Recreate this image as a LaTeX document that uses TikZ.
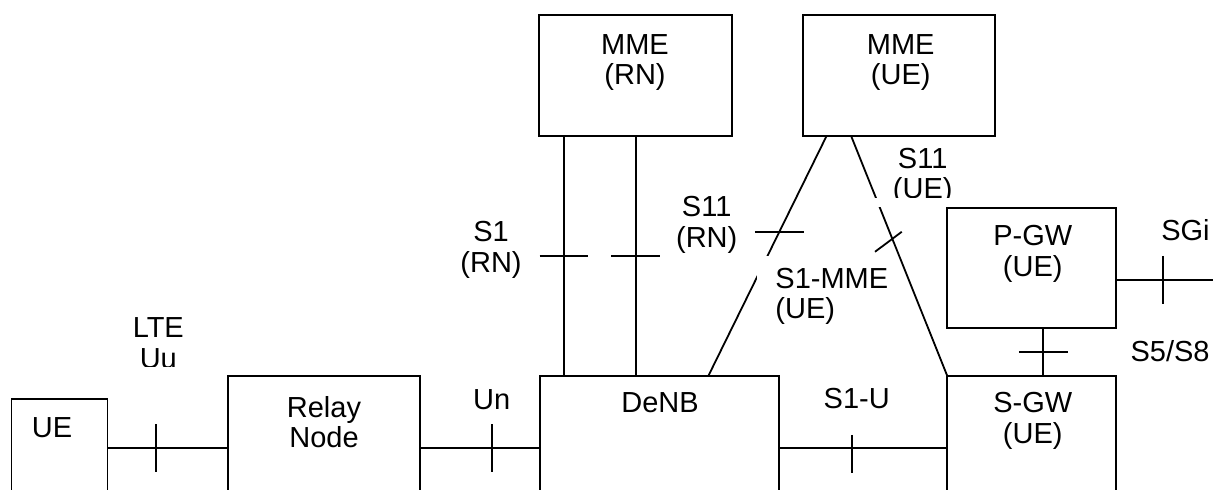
\documentclass[tikz,border=0pt]{standalone}
\usepackage{fontspec}
\setmainfont{Liberation Sans}

\begin{document}
\begin{tikzpicture}[x=0.5pt, y=-0.5pt,
  box/.style={draw, rectangle, line width=0.9pt, outer sep=0pt, inner sep=0pt, anchor=north west},
  link/.style={line width=0.9pt},
  lbl/.style={align=center, anchor=base, inner sep=0pt, font=\fontsize{14.5}{15.2}\selectfont}]

  \useasboundingbox (0,0) rectangle (1213,490);
  \clip (0,0) rectangle (1213,490);

  % boxes (the lower ones run off the bottom)
  \node[box, minimum width=48pt, minimum height=61pt] (ue) at (11.5,399) {};
  \node[box, minimum width=96pt, minimum height=72pt] (relay) at (228,376) {};
  \node[box, minimum width=119.5pt, minimum height=72pt] (denb) at (540,376) {};
  \node[box, minimum width=84.35pt, minimum height=72pt] (sgw) at (947.3,376) {};
  \node[box, minimum width=84.35pt, minimum height=60pt] (pgw) at (947.3,207.7) {};
  \node[box, minimum width=96.35pt, minimum height=60.2pt] (mmern) at (539.3,15.3) {};
  \node[box, minimum width=95.85pt, minimum height=60.2pt] (mmeue) at (803.3,15.3) {};

  \coordinate (uu) at (0,448.3);
  \coordinate (sgiend) at (1213,280);
  \coordinate (s1a) at ([xshift=12.35pt]mmern.south west);
  \coordinate (s1b) at ([xshift=48.2pt]mmern.south west);
  \coordinate (s58) at ([xshift=48pt]pgw.south west);

  % interfaces
  \draw[link] (ue.east |- uu) -- coordinate[pos=0.4] (tuu) (relay.west |- uu);
  \draw[link] (relay.east |- uu) -- coordinate[pos=0.6] (tun) (denb.west |- uu);
  \draw[link] (denb.east |- uu) -- coordinate[pos=0.432] (ts1u) (sgw.west |- uu);
  \draw[link] (s58) -- coordinate[pos=0.5] (ts58) (s58 |- sgw.north);
  \draw[link] (pgw.east |- sgiend) -- coordinate[pos=0.488] (tsgi) (sgiend);
  \draw[link] (s1a) -- coordinate[pos=0.5] (ts1a) (s1a |- denb.north);
  \draw[link] (s1b) -- coordinate[pos=0.5] (ts1b) (s1b |- denb.north);
  \draw[link] ([xshift=11.7pt]mmeue.south west) -- coordinate[pos=0.4] (ts11rn) ([xshift=84.15pt]denb.north west);
  \draw[link] ([xshift=23.85pt]mmeue.south west) -- coordinate[pos=0.429] (ts11ue) (sgw.north west);

  % ticks
  \foreach \t in {tuu,tun,tsgi}
  \draw[link] (\t) ++(0,-24) -- ++(0,48);
  \draw[link] (ts1u) ++(0,-13.3) -- ++(0,37.7);
  \foreach \t in {ts58,ts1a,ts1b,ts11rn}
  \draw[link] (\t) ++(-24.4,0) -- ++(48.8,0);
  \draw[link] (ts11ue) ++(-17.3,13) -- ++(26.7,-20);

  % labels (base = baseline of the last line)
  \node[lbl] (lue) at (52,437.7) {UE};
  \node[lbl] (llte) at (158.3,368.1) {LTE\\Uu};
  \node[lbl] (lrelay) at (324,447.7) {Relay\\Node};
  \node[lbl] (lun) at (491.7,410) {Un};
  \node[lbl] (ldenb) at (660,413) {DeNB};
  \node[lbl] (ls1u) at (856.7,409) {S1-U};
  \node[lbl] (lsgw) at (1032.7,443.4) {S-GW\\(UE)};
  \node[lbl] (lpgw) at (1032.7,276.1) {P-GW\\(UE)};
  \node[lbl, anchor=base east] (lsgi) at (1210,240.7) {SGi};
  \node[lbl, anchor=base east] (ls58) at (1210,361.7) {S5/S8};
  \node[lbl] (lmmern) at (635,84.7) {MME\\(RN)};
  \node[lbl] (lmmeue) at (900.7,84.7) {MME\\(UE)};
  \node[lbl] (ls1rn) at (491,272.1) {S1\\(RN)};
  \node[lbl] (ls11rn) at (706.7,247.1) {S11\\(RN)};
  \node[lbl] (ls11ue) at (922.7,198.7) {S11\\(UE)};

  \fill[white] (757,256) rectangle (850,330);
  \node[lbl, align=left, anchor=base west] (ls1mme) at (775,318.7) {S1-MME\\(UE)};

  % text boxes that cut into the labels
  \fill[white] (868,198.3) rectangle (972,206.8);
  \fill[white] (100,366.7) rectangle (220,375);

\end{tikzpicture}
\end{document}
